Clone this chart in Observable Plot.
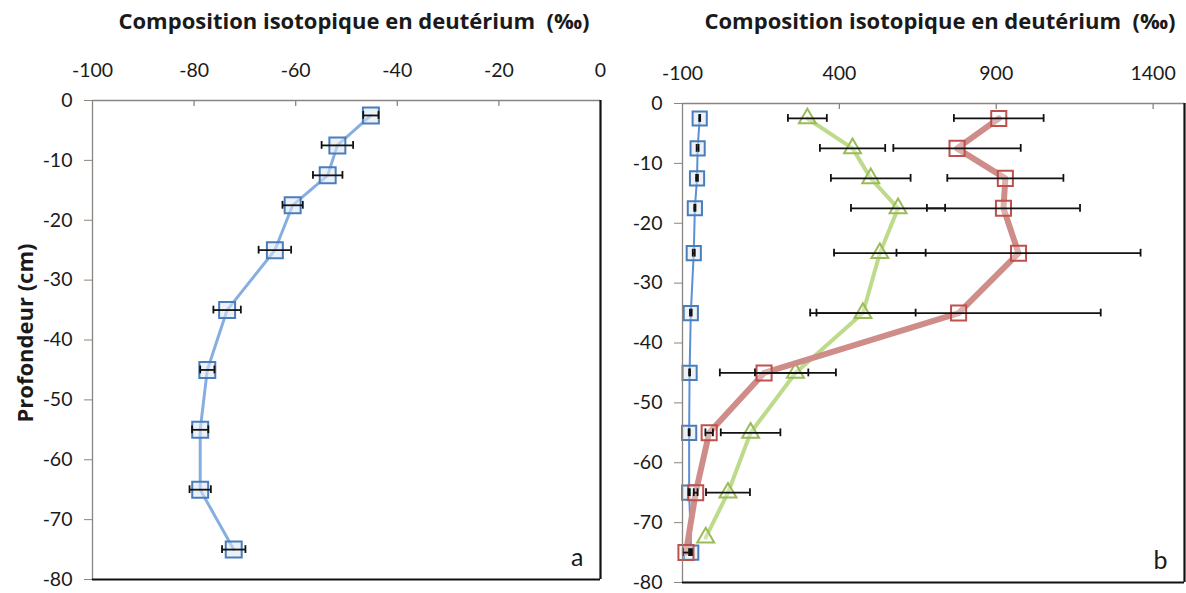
<!DOCTYPE html>
<html>
<head>
<meta charset="utf-8">
<script src="https://cdn.jsdelivr.net/npm/d3@7"></script>
<script src="https://cdn.jsdelivr.net/npm/@observablehq/plot@0.6"></script>
<style>
  html, body { margin: 0; padding: 0; background: #fff; }
  #wrap { position: relative; width: 1186px; height: 593px; background: #fff; font-family: Lato, "Noto Sans", sans-serif; color: #1a1a1a; overflow: hidden; }
  .title { position: absolute; top: 7px; text-align: center; font-family: "Open Sans", Lato, sans-serif; font-weight: bold; font-size: 22px; line-height: 26px; white-space: pre; }
  #ylab { position: absolute; left: -96px; top: 320px; width: 240px; text-align: center; font-family: "Open Sans", Lato, sans-serif; font-weight: bold; font-size: 22px; line-height: 26px; transform: rotate(-90deg); white-space: pre; }
  .panel { position: absolute; top: 0; }
</style>
</head>
<body>
<div id="wrap">
  <div class="title" style="left:100px;width:508px;">Composition isotopique en deutérium  (‰)</div>
  <div class="title" style="left:690px;width:500px;">Composition isotopique en deutérium  (‰)</div>
  <div id="ylab">Profondeur (cm)</div>
  <div id="left" class="panel" style="left:0px;"></div>
  <div id="right" class="panel" style="left:610px;"></div>
</div>
<script>
// ---- Data ----
const depths = [-2.5, -7.5, -12.5, -17.5, -25, -35, -45, -55, -65, -75];
const blueValues = [-45.2, -51.8, -53.7, -60.6, -64.1, -73.5, -77.4, -78.8, -78.8, -72.2];
const blueErrors = [1.5, 3.1, 2.9, 2.0, 3.2, 2.7, 1.4, 1.6, 2.1, 2.3];

const greenDepths = [-2.5, -7.5, -12.5, -17.5, -25, -35, -45, -55, -65, -72.5];
const greenValues = [298, 442, 500, 587, 529, 475, 260, 117, 45, -26];
const greenErrors = [62, 104, 127, 150, 146, 168, 129, 95, 70, 0];

const redDepths = [-2.5, -7.5, -12.5, -17.5, -25, -35, -45, -55, -65, -75];
const redValues = [908, 775, 929, 923, 971, 780, 160, -15, -58, -89];
const redErrors = [143, 203, 185, 244, 389, 453, 141, 12, 6, 10];

const leftXTicks = [-100, -80, -60, -40, -20, 0];
const rightXTicks = [-100, 400, 900, 1400];
const yTicks = [0, -10, -20, -30, -40, -50, -60, -70, -80];

// ---- Build rows ----
const rows = (ds, vs, es) => ds.map((d, i) => ({depth: d, v: vs[i], e: es[i]}));
const blue = rows(depths, blueValues, blueErrors);
const green = rows(greenDepths, greenValues, greenErrors);
const red = rows(redDepths, redValues, redErrors);

const CAP = 0.65;
function errorBars(data) {
  const d = data.filter(r => r.e > 0);
  return [
    Plot.ruleY(d, {y: "depth", x1: r => r.v - r.e, x2: r => r.v + r.e, stroke: "#111", strokeWidth: 1.8}),
    Plot.ruleX(d, {x: r => r.v - r.e, y1: r => r.depth - CAP, y2: r => r.depth + CAP, stroke: "#111", strokeWidth: 1.8}),
    Plot.ruleX(d, {x: r => r.v + r.e, y1: r => r.depth - CAP, y2: r => r.depth + CAP, stroke: "#111", strokeWidth: 1.8})
  ];
}

function frameMarks(xDomain, xTicks, label) {
  const inner = xTicks.filter(t => t !== xDomain[0] && t !== xDomain[1]);
  return [
    Plot.ruleY([0], {stroke: "#8a8580", strokeWidth: 1.3}),
    Plot.ruleX([xDomain[0]], {stroke: "#8a8580", strokeWidth: 1.3}),
    Plot.ruleX(inner, {y1: 0, y2: -1.0, stroke: "#8a8580", strokeWidth: 1.3}),
    Plot.ruleY([-80], {stroke: "#111", strokeWidth: 2.2}),
    Plot.ruleX([xDomain[1]], {stroke: "#111", strokeWidth: 2.2}),
    Plot.axisX({anchor: "top", ticks: xTicks, tickSize: 0, tickPadding: 24, fontSize: 19.5, label: null, tickFormat: d => String(d)}),
    Plot.axisY({ticks: yTicks, tickSize: 8, tickPadding: 12, fontSize: 19.5, stroke: "#8a8580", label: null, tickFormat: d => String(d)}),
    Plot.text([label], {frameAnchor: "bottom-right", dx: -17, dy: -14, fontSize: 25})
  ];
}

const style = {fontFamily: "Lato, 'Noto Sans', sans-serif", fontSize: "19px", color: "#1a1a1a", background: "transparent", overflow: "visible"};

const leftDomain = [-100, 0];
const leftPlot = Plot.plot({
  width: 610, height: 593,
  marginLeft: 92, marginRight: 10, marginTop: 100, marginBottom: 14,
  style,
  x: {domain: leftDomain},
  y: {domain: [-80, 0]},
  marks: [
    Plot.line(blue, {x: "v", y: "depth", stroke: "#86aee0", strokeWidth: 3}),
    Plot.dot(blue, {x: "v", y: "depth", symbol: "square", r: 9, stroke: "#4a7ebb", strokeWidth: 2, fill: "#dce6f2", fillOpacity: 0.55}),
    ...errorBars(blue),
    ...frameMarks(leftDomain, leftXTicks, "a")
  ]
});
document.getElementById("left").append(leftPlot);

const rightDomain = [-100, 1500];
const rightPlot = Plot.plot({
  width: 576, height: 593,
  marginLeft: 72, marginRight: 2, marginTop: 103, marginBottom: 11,
  style,
  x: {domain: rightDomain},
  y: {domain: [-80, 0]},
  marks: [
    Plot.line(blue, {x: "v", y: "depth", stroke: "#5b8fd6", strokeWidth: 2}),
    Plot.dot(blue, {x: "v", y: "depth", symbol: "square", r: 8, stroke: "#4a7ebb", strokeWidth: 2, fill: "#dce6f2", fillOpacity: 0.5}),
    Plot.line(green, {x: "v", y: "depth", stroke: "#bddb8b", strokeWidth: 4}),
    Plot.dot(green, {x: "v", y: "depth", symbol: "triangle", r: 6.3, stroke: "#9bbb59", strokeWidth: 2, fill: "#ffffff", fillOpacity: 0.3}),
    Plot.line(red, {x: "v", y: "depth", stroke: "#cf8d8a", strokeWidth: 6}),
    Plot.dot(red, {x: "v", y: "depth", symbol: "square", r: 8.5, stroke: "#c0504d", strokeWidth: 2, fill: "#ffffff", fillOpacity: 0.3}),
    ...errorBars(blue),
    ...errorBars(green),
    ...errorBars(red),
    ...frameMarks(rightDomain, rightXTicks, "b")
  ]
});
document.getElementById("right").append(rightPlot);
</script>
</body>
</html>
